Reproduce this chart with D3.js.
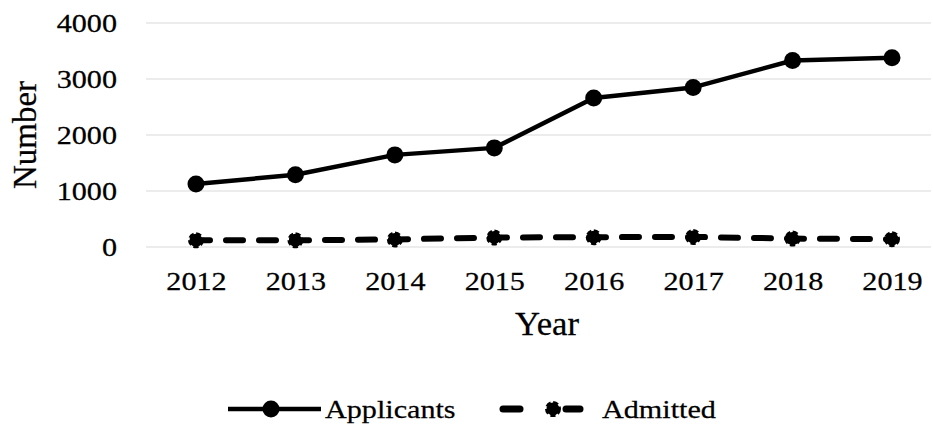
<!DOCTYPE html>
<html>
<head>
<meta charset="utf-8">
<script src="https://cdn.jsdelivr.net/npm/d3@7"></script>
<style>
  body { margin: 0; background: #fff; }
  text { font-family: "Liberation Serif", "Times New Roman", serif; fill: #000; stroke: #000; stroke-width: 0.25px; }
</style>
</head>
<body>
<svg id="chart" width="933" height="425"></svg>
<script>
const years = ['2012', '2013', '2014', '2015', '2016', '2017', '2018', '2019']
const applicants = [1125, 1290, 1645, 1770, 2660, 2850, 3330, 3380]
const admitted = [120, 120, 135, 170, 175, 180, 150, 140]
const yTicks = [0, 1000, 2000, 3000, 4000]
const seriesNames = ['Applicants', 'Admitted']

const svg = d3.select('#chart')

const x = d3.scalePoint().domain(years).range([196, 892])
const y = d3.scaleLinear().domain([0, 4000]).range([247, 23])

// gridlines
svg.append('g')
  .selectAll('line')
  .data(yTicks)
  .join('line')
  .attr('x1', 146).attr('x2', 931)
  .attr('y1', d => y(d)).attr('y2', d => y(d))
  .attr('stroke', '#d9d9d9')
  .attr('stroke-width', 1)

// y axis labels
svg.append('g')
  .attr('transform', 'translate(117,0)')
  .call(d3.axisLeft(y).tickValues(yTicks).tickFormat(d3.format('d')).tickSize(0).tickPadding(0))
  .call(g => g.select('.domain').remove())
  .selectAll('text')
  .style('font-size', '26px')
  .attr('x', 0)
  .attr('dy', '0.34em')
  .attr('transform', 'scale(1.16,1)')

// x axis labels
svg.append('g')
  .attr('transform', 'translate(0,290)')
  .call(d3.axisBottom(x).tickSize(0).tickPadding(0))
  .call(g => g.select('.domain').remove())
  .selectAll('text')
  .style('font-size', '26px')
  .attr('y', 0)
  .attr('dy', 0)
  .attr('transform', 'scale(1.16,1)')

svg.append('text')
  .attr('transform', 'translate(547,335) scale(1.05,1)')
  .attr('text-anchor', 'middle')
  .style('font-size', '33px')
  .text('Year')

svg.append('text')
  .attr('transform', 'translate(36,135) rotate(-90)')
  .attr('text-anchor', 'middle')
  .style('font-size', '33px')
  .text('Number')

const line = d3.line().x((d, i) => x(years[i])).y(d => y(d))

// Applicants
svg.append('path')
  .datum(applicants)
  .attr('d', line)
  .attr('fill', 'none')
  .attr('stroke', '#000')
  .attr('stroke-width', 4.5)
  .attr('stroke-linejoin', 'round')

svg.append('g')
  .selectAll('circle')
  .data(applicants)
  .join('circle')
  .attr('cx', (d, i) => x(years[i]))
  .attr('cy', d => y(d))
  .attr('r', 8.5)
  .attr('fill', '#000')

// Admitted
svg.append('path')
  .datum(admitted)
  .attr('d', line)
  .attr('fill', 'none')
  .attr('stroke', '#000')
  .attr('stroke-width', 6)
  .attr('stroke-dasharray', '17,16')
  .attr('stroke-dashoffset', 3)
  .attr('stroke-linecap', 'round')

svg.append('g')
  .selectAll('circle')
  .data(admitted)
  .join('circle')
  .attr('cx', (d, i) => x(years[i]))
  .attr('cy', d => y(d))
  .attr('r', 6.5)
  .attr('fill', '#000')
  .attr('stroke', '#000')
  .attr('stroke-width', 3)
  .attr('stroke-dasharray', '5,2.5')

// legend
const legend = svg.append('g')

legend.append('line')
  .attr('x1', 228).attr('x2', 321).attr('y1', 409).attr('y2', 409)
  .attr('stroke', '#000').attr('stroke-width', 4.5)
legend.append('circle')
  .attr('cx', 271).attr('cy', 409).attr('r', 8.5).attr('fill', '#000')

legend.selectAll('line.adm')
  .data([[503, 520], [566, 580]])
  .join('line')
  .attr('class', 'adm')
  .attr('x1', d => d[0]).attr('x2', d => d[1])
  .attr('y1', 409).attr('y2', 409)
  .attr('stroke', '#000').attr('stroke-width', 7)
  .attr('stroke-linecap', 'round')
legend.append('circle')
  .attr('cx', 553).attr('cy', 409).attr('r', 6.5)
  .attr('fill', '#000').attr('stroke', '#000')
  .attr('stroke-width', 3).attr('stroke-dasharray', '5,2.5')

legend.selectAll('text')
  .data(seriesNames)
  .join('text')
  .attr('transform', (d, i) => `translate(${i ? 602 : 325},418) scale(1.16,1)`)
  .style('font-size', '26px')
  .text(d => d)
</script>
</body>
</html>
